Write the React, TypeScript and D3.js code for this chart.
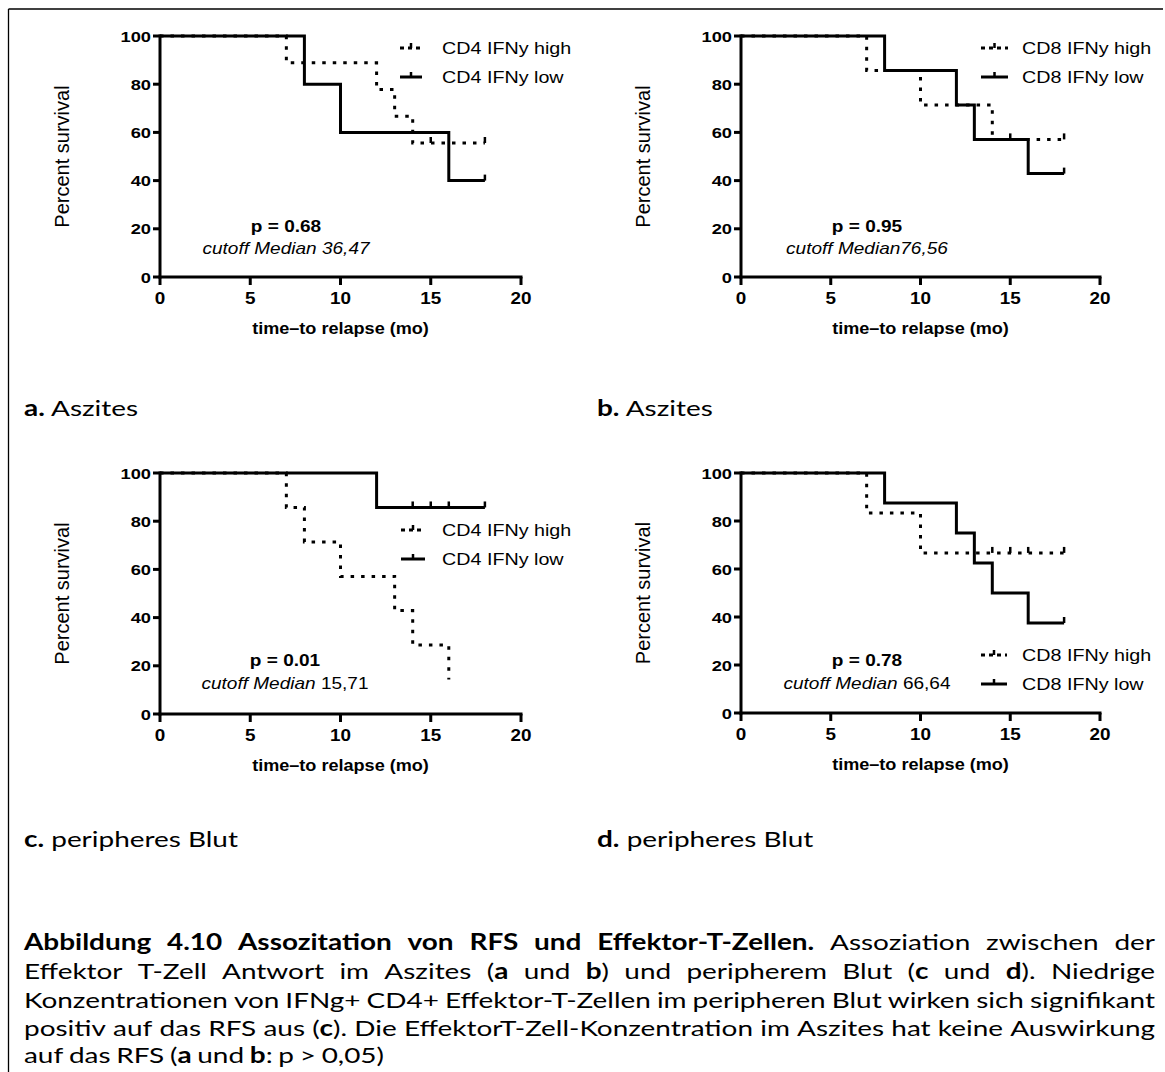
import React, { useEffect, useRef } from "react";
import * as d3 from "d3";

const W = 1165;
const H = 1072;

const xTicks = [0, 5, 10, 15, 20];
const yTicks = [0, 20, 40, 60, 80, 100];

// Panel a: CD4 Aszites
const aHighTimes = [0, 7, 12, 13, 14, 18];
const aHighSurv = [100, 88.9, 77.8, 66.7, 55.6, 55.6];
const aHighCensor = [15, 18];
const aLowTimes = [0, 8, 10, 16, 18];
const aLowSurv = [100, 80, 60, 40, 40];
const aLowCensor = [18];

// Panel b: CD8 Aszites
const bHighTimes = [0, 7, 10, 14, 18];
const bHighSurv = [100, 85.7, 71.4, 57.1, 57.1];
const bHighCensor = [15, 18];
const bLowTimes = [0, 8, 12, 13, 16, 18];
const bLowSurv = [100, 85.7, 71.4, 57.1, 42.9, 42.9];
const bLowCensor = [18];

// Panel c: CD4 peripheres Blut
const cHighTimes = [0, 7, 8, 10, 13, 14, 16];
const cHighSurv = [100, 85.7, 71.4, 57.1, 42.9, 28.6, 14.3];
const cHighCensor: number[] = [];
const cLowTimes = [0, 12, 18];
const cLowSurv = [100, 85.7, 85.7];
const cLowCensor = [14, 15, 16, 18];

// Panel d: CD8 peripheres Blut
const dHighTimes = [0, 7, 10, 18];
const dHighSurv = [100, 83.3, 66.7, 66.7];
const dHighCensor = [14, 15, 16, 18];
const dLowTimes = [0, 8, 12, 13, 14, 16, 18];
const dLowSurv = [100, 87.5, 75, 62.5, 50, 37.5, 37.5];
const dLowCensor = [18];

const legendA = ["CD4 IFNy high", "CD4 IFNy low"];
const legendB = ["CD8 IFNy high", "CD8 IFNy low"];
const legendC = ["CD4 IFNy high", "CD4 IFNy low"];
const legendD = ["CD8 IFNy high", "CD8 IFNy low"];

const pTexts = ["p = 0.68", "p = 0.95", "p = 0.01", "p = 0.78"];
// [italic part, normal part]
const cutoffTexts: [string, string][] = [
  ["cutoff Median 36,47", ""],
  ["cutoff Median76,56", ""],
  ["cutoff Median", " 15,71"],
  ["cutoff Median", " 66,64"],
];

const panelLetters = ["a.", "b.", "c.", "d."];
const panelNames = [" Aszites", " Aszites", " peripheres Blut", " peripheres Blut"];

const xTitle = "time\u2013to relapse (mo)";
const yTitle = "Percent survival";

const captionLines = [
  "*Abbildung 4.10 Assozitation von RFS und Effektor-T-Zellen.* Assoziation zwischen der",
  "Effektor T-Zell Antwort im Aszites (*a* und *b*) und peripherem Blut (*c* und *d*). Niedrige",
  "Konzentrationen von IFNg+ CD4+ Effektor-T-Zellen im peripheren Blut wirken sich signifikant",
  "positiv auf das RFS aus (*c*). Die EffektorT-Zell-Konzentration im Aszites hat keine Auswirkung",
  "auf das RFS (*a* und *b*: p > 0,05)",
];

type Series = { times: number[]; surv: number[]; censor: number[]; dotted: boolean };

const panelSeries: Series[][] = [
  [
    { times: aHighTimes, surv: aHighSurv, censor: aHighCensor, dotted: true },
    { times: aLowTimes, surv: aLowSurv, censor: aLowCensor, dotted: false },
  ],
  [
    { times: bHighTimes, surv: bHighSurv, censor: bHighCensor, dotted: true },
    { times: bLowTimes, surv: bLowSurv, censor: bLowCensor, dotted: false },
  ],
  [
    { times: cHighTimes, surv: cHighSurv, censor: cHighCensor, dotted: true },
    { times: cLowTimes, surv: cLowSurv, censor: cLowCensor, dotted: false },
  ],
  [
    { times: dHighTimes, surv: dHighSurv, censor: dHighCensor, dotted: true },
    { times: dLowTimes, surv: dLowSurv, censor: dLowCensor, dotted: false },
  ],
];
const panelLegends = [legendA, legendB, legendC, legendD];

// layout
const layout = [
  { x0: 160, x1: 521, yTop: 36, yBot: 277, lgX: 400, lgLen: 22, lgTx: 442, lgY: [48, 77], pX: 286, pY: [232, 254], labX: 24, labY: 416 },
  { x0: 741, x1: 1100, yTop: 36, yBot: 277, lgX: 981, lgLen: 27, lgTx: 1022, lgY: [48, 77], pX: 867, pY: [232, 254], labX: 597, labY: 416 },
  { x0: 160, x1: 521, yTop: 473, yBot: 714, lgX: 401, lgLen: 24, lgTx: 442, lgY: [530, 559], pX: 285, pY: [666, 689], labX: 24, labY: 847 },
  { x0: 741, x1: 1100, yTop: 473, yBot: 713, lgX: 981, lgLen: 26, lgTx: 1022, lgY: [655, 684], pX: 867, pY: [666, 689], labX: 597, labY: 847 },
];

const SANS = "'Liberation Sans', Arial, sans-serif";
const CAP = "Lato, 'Open Sans', sans-serif";
const CAP_SIZE = 22;
const CAP_SX = 1.27;

function survAt(times: number[], surv: number[], t: number) {
  let v = surv[0];
  for (let i = 0; i < times.length; i++) if (times[i] <= t) v = surv[i];
  return v;
}

function stext(
  g: d3.Selection<SVGGElement, unknown, null, undefined>,
  x: number,
  y: number,
  str: string,
  o: { size: number; weight?: string; style?: string; anchor?: string; sx?: number }
) {
  return g
    .append("text")
    .attr("transform", `translate(${x},${y}) scale(${o.sx ?? 1},1)`)
    .attr("font-family", SANS)
    .attr("font-size", o.size)
    .attr("font-weight", o.weight ?? "normal")
    .attr("font-style", o.style ?? "normal")
    .attr("text-anchor", o.anchor ?? "start")
    .attr("fill", "#000")
    .text(str);
}

export default function App() {
  const ref = useRef<SVGSVGElement | null>(null);

  useEffect(() => {
    const svg = d3.select(ref.current!);
    svg.selectAll("*").remove();
    svg.append("rect").attr("width", W).attr("height", H).attr("fill", "#fff");

    // frame
    svg.append("line").attr("x1", 8.5).attr("x2", 1163).attr("y1", 9).attr("y2", 9).attr("stroke", "#000").attr("stroke-width", 1.3);
    svg.append("line").attr("x1", 8.5).attr("x2", 8.5).attr("y1", 9).attr("y2", H).attr("stroke", "#000").attr("stroke-width", 1.3);

    layout.forEach((L, pi) => {
      const g = svg.append("g");
      const x = d3.scaleLinear().domain([0, 20]).range([L.x0, L.x1]);
      const y = d3.scaleLinear().domain([0, 100]).range([L.yBot, L.yTop]);

      // series
      const line = d3
        .line<[number, number]>()
        .x((d) => x(d[0]))
        .y((d) => y(d[1]))
        .curve(d3.curveStepAfter);
      panelSeries[pi].forEach((s) => {
        const pts: [number, number][] = s.times.map((t, i) => [t, s.surv[i]]);
        g.append("path")
          .attr("d", line(pts)!)
          .attr("fill", "none")
          .attr("stroke", "#000")
          .attr("stroke-width", 3)
          .attr("stroke-dasharray", s.dotted ? "3.5,7" : null);
        s.censor.forEach((t) => {
          const v = survAt(s.times, s.surv, t);
          g.append("line")
            .attr("x1", x(t))
            .attr("x2", x(t))
            .attr("y1", y(v) - 6)
            .attr("y2", y(v))
            .attr("stroke", "#000")
            .attr("stroke-width", 2.5);
        });
      });

      // axes
      const ax = g.append("g").attr("stroke", "#000").attr("stroke-width", 3).attr("stroke-linecap", "square");
      ax.append("line").attr("x1", L.x0).attr("x2", L.x0).attr("y1", L.yTop).attr("y2", L.yBot);
      ax.append("line").attr("x1", L.x0).attr("x2", L.x1).attr("y1", L.yBot).attr("y2", L.yBot);
      yTicks.forEach((v) => {
        ax.append("line").attr("x1", L.x0 - 7).attr("x2", L.x0).attr("y1", y(v)).attr("y2", y(v)).attr("stroke-linecap", "butt");
        stext(g, L.x0 - 9, y(v) + 5.5, String(v), { size: 15, weight: "bold", anchor: "end", sx: 1.22 });
      });
      xTicks.forEach((v) => {
        ax.append("line").attr("x1", x(v)).attr("x2", x(v)).attr("y1", L.yBot).attr("y2", L.yBot + 8).attr("stroke-linecap", "butt");
        stext(g, x(v), L.yBot + 27, String(v), { size: 16, weight: "bold", anchor: "middle", sx: 1.18 });
      });

      // titles
      stext(g, (L.x0 + L.x1) / 2, L.yBot + 57, xTitle, { size: 16, weight: "bold", anchor: "middle", sx: 1.13 });
      g.append("text")
        .attr("transform", `translate(${L.x0 - 91},${(L.yTop + L.yBot) / 2}) rotate(-90)`)
        .attr("font-family", SANS)
        .attr("font-size", 20)
        .attr("text-anchor", "middle")
        .text(yTitle);

      // legend
      panelSeries[pi].forEach((s, i) => {
        const ly = L.lgY[i];
        const mid = L.lgX + L.lgLen / 2;
        if (s.dotted) {
          g.append("line").attr("x1", L.lgX).attr("x2", L.lgX + L.lgLen).attr("y1", ly).attr("y2", ly)
            .attr("stroke", "#000").attr("stroke-width", 3).attr("stroke-dasharray", "4,4");
        } else {
          g.append("line").attr("x1", L.lgX).attr("x2", L.lgX + L.lgLen).attr("y1", ly).attr("y2", ly)
            .attr("stroke", "#000").attr("stroke-width", 3);
        }
        g.append("line").attr("x1", mid).attr("x2", mid).attr("y1", ly - 5).attr("y2", ly)
          .attr("stroke", "#000").attr("stroke-width", 2.5);
        stext(g, L.lgTx, ly + 6, panelLegends[pi][i], { size: 17, sx: 1.16 });
      });

      // p value
      stext(g, L.pX, L.pY[0], pTexts[pi], { size: 17, weight: "bold", anchor: "middle", sx: 1.12 });
      const ct = g
        .append("text")
        .attr("transform", `translate(${L.pX},${L.pY[1]}) scale(1.12,1)`)
        .attr("font-family", SANS)
        .attr("font-size", 17)
        .attr("text-anchor", "middle");
      ct.append("tspan").attr("font-style", "italic").text(cutoffTexts[pi][0]);
      if (cutoffTexts[pi][1]) ct.append("tspan").text(cutoffTexts[pi][1]);

      // panel label
      const lt = svg
        .append("text")
        .attr("transform", `translate(${L.labX},${L.labY}) scale(${CAP_SX},1)`)
        .attr("font-family", CAP)
        .attr("font-size", CAP_SIZE);
      lt.append("tspan").attr("font-weight", "bold").text(panelLetters[pi]);
      lt.append("tspan").text(panelNames[pi]);
    });

    // caption with justification
    const capX0 = 24;
    const capX1 = 1155;
    const localW = (capX1 - capX0) / CAP_SX;
    const capY = [950, 979, 1008, 1036, 1063];
    const capG = svg.append("g").attr("transform", `translate(${capX0},0) scale(${CAP_SX},1)`);
    captionLines.forEach((ln, li) => {
      let bold = false;
      const words: { t: string; b: boolean }[][] = [];
      let cur: { t: string; b: boolean }[] = [];
      let buf = "";
      const flush = () => {
        if (buf) cur.push({ t: buf, b: bold });
        buf = "";
      };
      for (const ch of ln) {
        if (ch === "*") {
          flush();
          bold = !bold;
        } else if (ch === " ") {
          flush();
          if (cur.length) words.push(cur);
          cur = [];
        } else buf += ch;
      }
      flush();
      if (cur.length) words.push(cur);

      const nodes = words.map((w) => {
        const t = capG.append("text").attr("y", capY[li]).attr("font-family", CAP).attr("font-size", CAP_SIZE);
        w.forEach((r) => t.append("tspan").attr("font-weight", r.b ? "bold" : "normal").text(r.t));
        return t;
      });
      const widths = nodes.map((n) => (n.node() as SVGTextElement).getComputedTextLength());
      const total = d3.sum(widths);
      const last = li === captionLines.length - 1;
      const gap = last ? 4.5 : (localW - total) / (nodes.length - 1);
      let xx = 0;
      nodes.forEach((n, i) => {
        n.attr("x", xx);
        xx += widths[i] + gap;
      });
    });
  }, []);

  return (
    <svg
      ref={ref}
      width={W}
      height={H}
      style={{ position: "absolute", left: 0, top: 0, display: "block" }}
    />
  );
}
